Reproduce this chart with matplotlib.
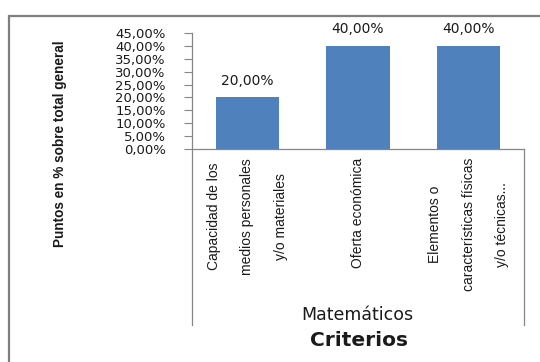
import matplotlib
matplotlib.use("Agg")
import matplotlib.pyplot as plt
from matplotlib.lines import Line2D
from matplotlib.patches import Rectangle

# data
categories = ["Capacidad de los\nmedios personales\ny/o materiales",
              "Oferta económica",
              "Elementos o\ncaracterísticas físicas\ny/o técnicas..."]
values = [0.20, 0.40, 0.40]
group_label = "Matemáticos"
y_ticks = [0.00, 0.05, 0.10, 0.15, 0.20, 0.25, 0.30, 0.35, 0.40, 0.45]

BAR = "#4F81BD"
GRID = "#868686"
TXT = "#1a1a1a"
NARROW = ["Liberation Sans", "DejaVu Sans"]


def pct(v):
    return f"{v * 100:.2f}%".replace(".", ",")


W, H = 540, 362
fig = plt.figure(figsize=(W / 100, H / 100), dpi=100)

# outer chart border (runs off the right and bottom edge)
fig.add_artist(Rectangle((9 / W, -0.05), 1.2, 1 - 16 / H + 0.05, transform=fig.transFigure,
                         fill=False, edgecolor="#7f7f7f", linewidth=1.6))

ax = fig.add_axes([192 / W, 1 - 149 / H, (524 - 192) / W, (149 - 33) / H])
x = list(range(len(values)))
bars = ax.bar(x, values, width=0.57, color=BAR, zorder=2)
ax.set_xlim(-0.5, len(values) - 0.5)
ax.set_ylim(0, 0.45)

ax.set_yticks(y_ticks)
ax.set_yticklabels([pct(v) for v in y_ticks], fontsize=9.5, color=TXT, family="DejaVu Sans")
ax.tick_params(axis="y", length=6, width=0.8, color=GRID, pad=13)

ax.set_xticks(x)
ax.set_xticklabels(categories, rotation=90, va="top", ha="center", multialignment="center",
                   fontsize=10, color=TXT, family=NARROW, linespacing=2.75)
ax.tick_params(axis="x", length=0, pad=6.5)

for s in ["top", "right"]:
    ax.spines[s].set_visible(False)
for s in ["left", "bottom"]:
    ax.spines[s].set_color(GRID)
    ax.spines[s].set_linewidth(0.9)

ax.bar_label(bars, labels=[pct(v) for v in values], padding=7, fontsize=10,
             color=TXT, family="DejaVu Sans")

# category group box
for xp in (192, 524):
    fig.add_artist(Line2D([xp / W, xp / W], [1 - 149 / H, 1 - 325 / H],
                          transform=fig.transFigure, color=GRID, linewidth=0.9))
fig.text(357 / W, 1 - 315 / H, group_label, ha="center", va="center",
         fontsize=12.5, color=TXT, family="DejaVu Sans")
fig.text(359 / W, 1 - 340 / H, "Criterios", ha="center", va="center",
         fontsize=14.5, fontweight="bold", color=TXT, family="DejaVu Sans")

fig.text(60 / W, 1 - 144 / H, "Puntos en % sobre total general", rotation=90,
         ha="center", va="center", fontsize=9.8, fontweight="bold", color=TXT,
         family=NARROW)

fig.savefig("out.png", dpi=100)
